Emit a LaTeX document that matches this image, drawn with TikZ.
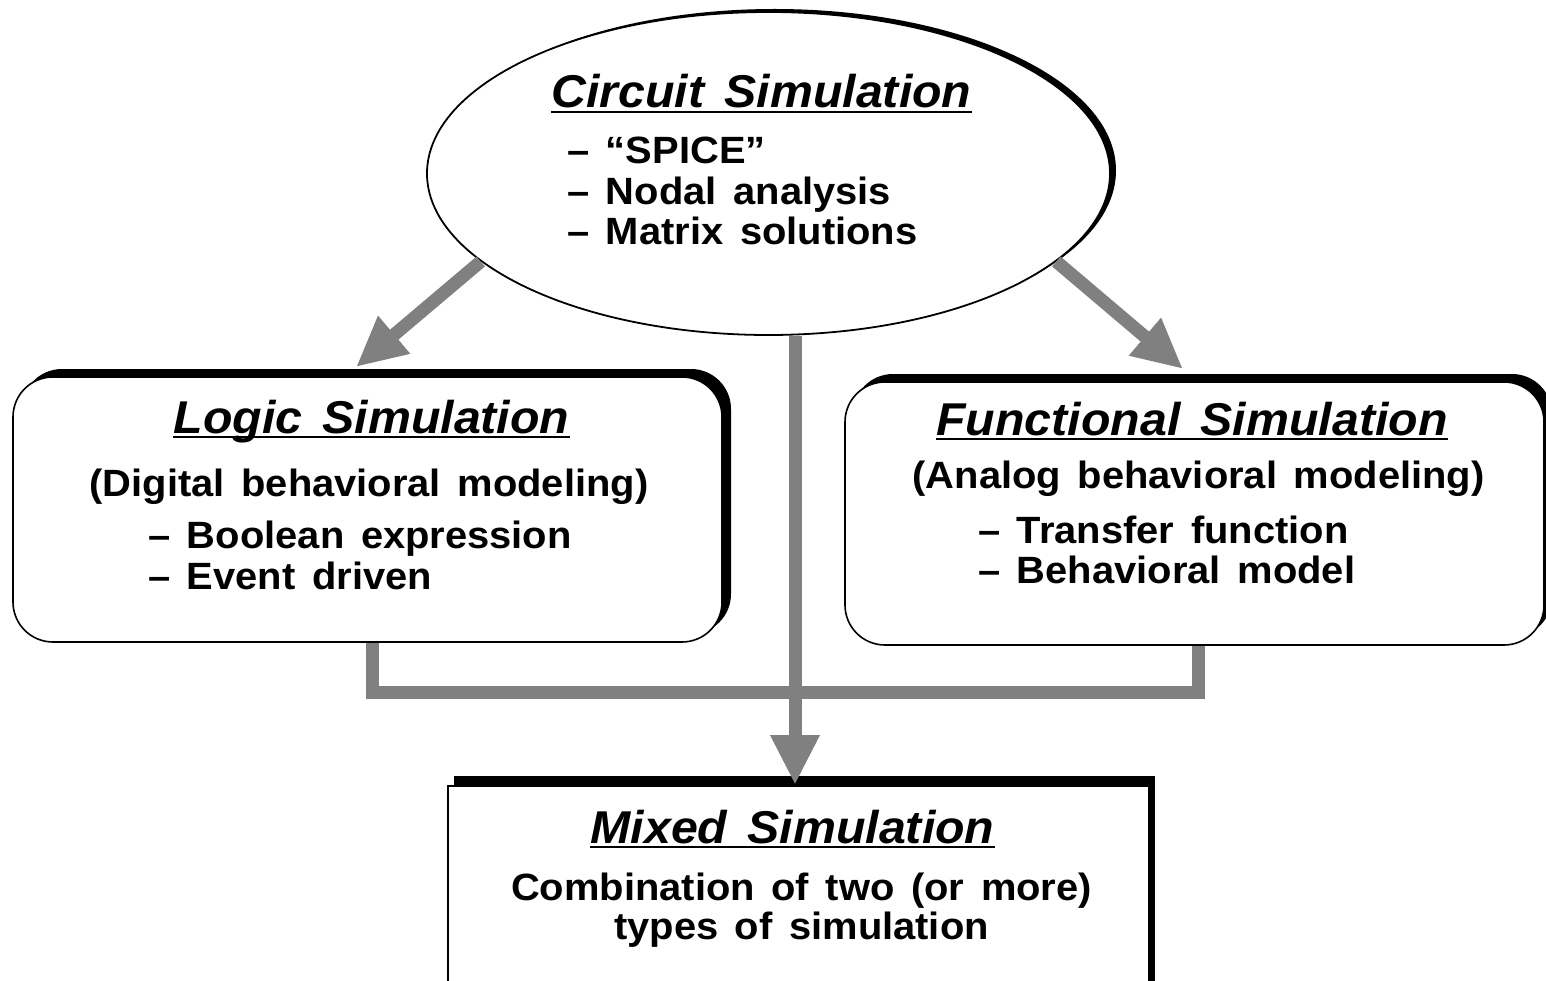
\documentclass[tikz,border=0pt]{standalone}
\usepackage{fontspec}
\setmainfont{Liberation Sans}[WordSpace=1.5,FakeStretch=1.05]
\usetikzlibrary{shapes.geometric,arrows.meta,shadows}
\definecolor{arrgray}{RGB}{128,128,128}
\begin{document}
\begin{tikzpicture}[x=1pt,y=-1pt,
  titletext/.style={inner sep=0pt,anchor=base,font=\fontsize{46}{50}\selectfont\bfseries\itshape},
  bodytext/.style={inner sep=0pt,font=\fontsize{38}{40}\selectfont\bfseries},
  bullet/.style={bodytext,anchor=base west},
  centerline/.style={bodytext,anchor=base},
  uline/.style={line width=2.6pt},
  gline/.style={draw=arrgray,line width=13pt},
  garrow/.style={gline,-{Triangle[length=50pt,width=46pt]}},
  roundbox/.style={draw,line width=1.6pt,fill=white,rounded corners=40pt,inner sep=0pt}
]
\clip (0,0) rectangle (1546,981);
\fill[white] (0,0) rectangle (1546,981);

\coordinate (ltip) at (356,367);
\coordinate (rtip) at (1183,369);
\coordinate (j) at (795,692);

% nodes
\node[ellipse,draw,line width=1.8pt,fill=white,minimum width=683pt,minimum height=323pt,inner sep=0pt,
      general shadow={fill=black,shadow xshift=6pt,shadow yshift=3pt}] (circ) at (768.5,173.5) {};
\node[roundbox,minimum width=709pt,minimum height=265pt,
      general shadow={fill=black,shadow xshift=9pt,shadow yshift=8pt}] (logic) at (367.5,509.5) {};
\node[roundbox,minimum width=699pt,minimum height=263pt,
      general shadow={fill=black,shadow xshift=8pt,shadow yshift=8pt}] (func) at (1194.5,513.5) {};
\node[draw,line width=2pt,fill=white,minimum width=701pt,minimum height=260pt,inner sep=0pt,anchor=north,
      general shadow={fill=black,shadow xshift=6pt,shadow yshift=10pt}] (mix) at (798.5,785) {};

% gray connectors
\draw[garrow] (circ.197) -- (ltip);
\draw[garrow] (circ.-17) -- (rtip);
\draw[gline] ([xshift=4.5pt]logic.south) |- (j) -| ([xshift=3.5pt]func.south);
\coordinate (mtop) at ([xshift=-3.5pt]mix.north);
\draw[garrow] (mtop |- circ.south) -- (mtop);

% ellipse text
\node[titletext] (t1) at (761.5,108) {Circuit Simulation};
\draw[uline] ([yshift=-4pt]t1.base west) -- ([yshift=-4pt]t1.base east);
\node[bullet] (c1) at (567,163.5) {– “SPICE”};
\node[bullet] (c2) at (567,204.5) {– Nodal analysis};
\node[bullet] (c3) at (567,244.5) {– Matrix solutions};

% logic text
\node[titletext] (t2) at (371.5,433) {Logic Simulation};
\draw[uline] ([yshift=-4pt]t2.base west) -- ([yshift=-4pt]t2.base east);
\node[centerline] (l0) at (369,496.5) {(Digital behavioral modeling)};
\node[bullet] (l1) at (148,548.5) {– Boolean expression};
\node[bullet] (l2) at (148,589.5) {– Event driven};

% functional text
\node[titletext] (t3) at (1192,435) {Functional Simulation};
\draw[uline] ([yshift=-4pt]t3.base west) -- ([yshift=-4pt]t3.base east);
\node[centerline] (f0) at (1198.5,488.5) {(Analog behavioral modeling)};
\node[bullet] (f1) at (978,543.5) {– Transfer function};
\node[bullet] (f2) at (978,583.5) {– Behavioral model};

% mixed text
\node[titletext] (t4) at (792.5,843) {Mixed Simulation};
\draw[uline] ([yshift=-4pt]t4.base west) -- ([yshift=-4pt]t4.base east);
\node[centerline] (m1) at (801.5,900) {Combination of two (or more)};
\node[centerline] (m2) at (801.5,939) {types of simulation};
\end{tikzpicture}
\end{document}
